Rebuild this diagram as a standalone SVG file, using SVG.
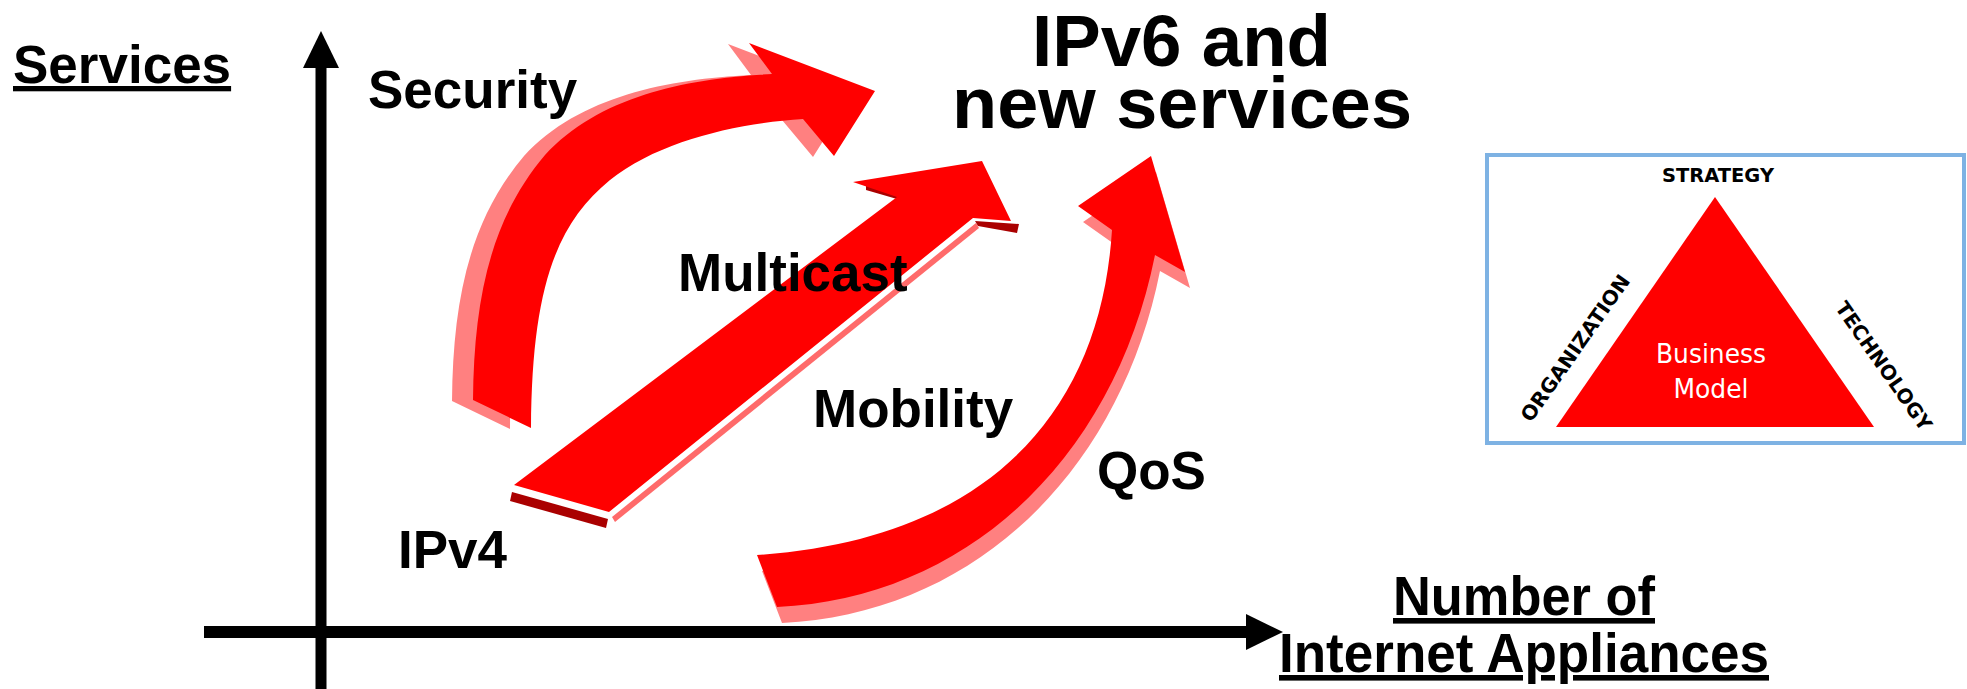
<svg xmlns="http://www.w3.org/2000/svg" width="1967" height="689" viewBox="0 0 1967 689">
<defs>
<style>
.lbl{font-family:"Liberation Sans",Arial,sans-serif;font-weight:bold;fill:#000;font-size:53px;}
.red{fill:#FF0000;}
.shadow{fill:#FF8080;}
.dark{fill:#AA0000;}
.side{fill:#FF6A6A;}
.axis{stroke:#000;stroke-width:11;fill:none;}
.bm{font-family:"DejaVu Sans",Verdana,sans-serif;font-size:26px;fill:#fff;}
.bmlbl{font-family:"DejaVu Sans",Verdana,sans-serif;font-weight:bold;font-size:20px;fill:#000;}
</style>
<marker id="ah" markerUnits="userSpaceOnUse" markerWidth="37" markerHeight="36" refX="1" refY="18" orient="auto"><path d="M0,0 L37,18 L0,36 Z" fill="#000"/></marker>
<path id="secPath" d="M473,400 C474,300 490,220 545,155 C600,95 690,78 772,74 L749,43 L875,91 L834,156 L803,119 C740,123 660,140 610,180 C555,225 532,290 531,428 Z"/>
<path id="qosPath" d="M757,555 L777,607 C970,598 1115,455 1155,255 L1185,272 L1151,156 L1078,206 L1112,230 C1100,420 980,540 757,555 Z"/>
</defs>
<rect width="1967" height="689" fill="#fff"/>

<g id="connectors">
<line class="axis" x1="321" y1="689" x2="321" y2="67" marker-end="url(#ah)"/>
<line class="axis" x1="204" y1="632" x2="1247" y2="632" style="stroke-width:12" marker-end="url(#ah)"/>
</g>

<g id="security-arrow">
<use href="#secPath" class="shadow" transform="translate(-21,1)"/>
<use href="#secPath" class="red"/>
</g>

<g id="multicast-arrow">
<path class="dark" d="M512,492 L608,519 L606,528 L510,501 Z"/>
<path class="side" d="M612,517 L976,223 L979,228 L615,522 Z"/>
<path class="dark" d="M975,221 L1019,224 L1017,233 L978,226 Z"/>
<path class="dark" d="M866,185 L899,194 L897,199 L866,190 Z"/>
<path class="red" d="M514,485 L609,512 L973,218 L1011,221 L982,161 L853,182 L897,197 Z"/>
</g>

<g id="qos-arrow">
<use href="#qosPath" class="shadow" transform="translate(5,16)"/>
<use href="#qosPath" class="red"/>
</g>

<g id="axis-services"><text class="lbl" x="13" y="83" text-decoration="underline">Services</text></g>
<g id="axis-appliances">
<text class="lbl" x="1393" y="615" style="font-size:56px" textLength="262" lengthAdjust="spacingAndGlyphs" text-decoration="underline">Number of</text>
<text class="lbl" x="1279" y="672" style="font-size:56px" textLength="490" lengthAdjust="spacingAndGlyphs" text-decoration="underline">Internet Appliances</text>
</g>
<g id="title">
<text class="lbl" x="1032" y="66" style="font-size:72px" textLength="299" lengthAdjust="spacingAndGlyphs">IPv6 and</text>
<text class="lbl" x="952" y="128" style="font-size:72px" textLength="460" lengthAdjust="spacingAndGlyphs">new services</text>
</g>
<g id="label-security"><text class="lbl" x="368" y="108">Security</text></g>
<g id="label-multicast"><text class="lbl" x="678" y="291">Multicast</text></g>
<g id="label-mobility"><text class="lbl" x="813" y="427">Mobility</text></g>
<g id="label-qos"><text class="lbl" x="1097" y="489">QoS</text></g>
<g id="label-ipv4"><text class="lbl" x="398" y="568">IPv4</text></g>

<g id="business-model">
<rect x="1487" y="155" width="477" height="288" fill="none" stroke="#7EB2E3" stroke-width="4"/>
<polygon points="1715,197 1874,427 1556,427" fill="#FF0000"/>
<text class="bmlbl" x="1718" y="182" text-anchor="middle" textLength="112" lengthAdjust="spacingAndGlyphs">STRATEGY</text>
<text class="bmlbl" transform="translate(1581,352) rotate(-55)" text-anchor="middle" textLength="174" lengthAdjust="spacingAndGlyphs">ORGANIZATION</text>
<text class="bmlbl" transform="translate(1878,370) rotate(55)" text-anchor="middle" textLength="152" lengthAdjust="spacingAndGlyphs">TECHNOLOGY</text>
<text class="bm" x="1711" y="363" text-anchor="middle" textLength="110" lengthAdjust="spacingAndGlyphs">Business</text>
<text class="bm" x="1711" y="398" text-anchor="middle" textLength="75" lengthAdjust="spacingAndGlyphs">Model</text>
</g>
</svg>
